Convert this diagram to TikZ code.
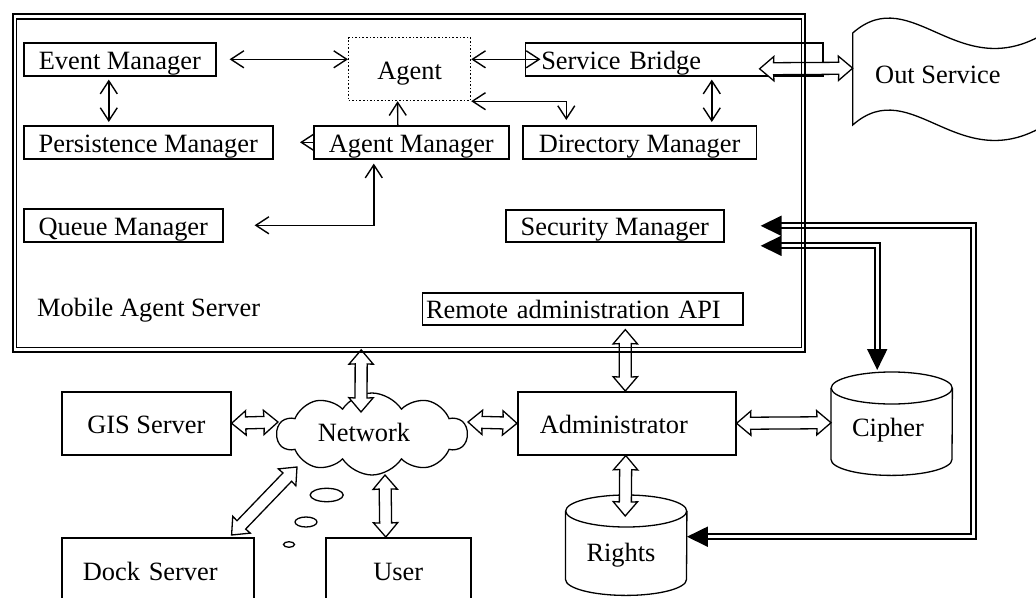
\documentclass[tikz,border=0pt]{standalone}
\usepackage{fontspec}
\setmainfont{Liberation Serif}
\usetikzlibrary{arrows.meta,calc,shapes.symbols}
\begin{document}
\begin{tikzpicture}[x=1pt,y=1pt,
  every node/.style={font=\fontsize{26.4pt}{30pt}\selectfont},
  box/.style={draw, line width=1.6pt, inner sep=0pt, anchor=north west, text height=20.5pt, text depth=0.5pt},
  area/.style={inner sep=0pt, anchor=north west},
  tl/.style={line width=1.4pt},
  >={Straight Barb[length=13pt,width=17pt]},
  shp/.style={line width=1.3pt},
  dbl/.style={draw=black, double=white, line width=1.9pt, double distance=3pt,
    {Triangle[length=21pt,width=20pt]}-{Triangle[length=21pt,width=20pt]}},
  fat/.style={draw=black, fill=white, line width=1.3pt, line join=miter, to path={
    -- ($(\tikztostart)!18.8pt!40.4:(\tikztotarget)$)
    -- ($(\tikztostart)!15.23pt!23.2:(\tikztotarget)$)
    -- ($(\tikztotarget)!15.23pt!-23.2:(\tikztostart)$)
    -- ($(\tikztotarget)!18.8pt!-40.4:(\tikztostart)$)
    -- (\tikztotarget)
    -- ($(\tikztotarget)!18.8pt!40.4:(\tikztostart)$)
    -- ($(\tikztotarget)!15.23pt!23.2:(\tikztostart)$)
    -- ($(\tikztostart)!15.23pt!-23.2:(\tikztotarget)$)
    -- ($(\tikztostart)!18.8pt!-40.4:(\tikztotarget)$)
    -- cycle}}
]
\useasboundingbox (0,0) rectangle (1036,-597);
\clip (0,0) rectangle (1036,-597);

% ---------- server frame (area) ----------
\node[area, minimum width=792pt, minimum height=338pt] (srv) at (13,-14) {};

% ---------- boxes inside the server ----------
\node[box, minimum width=192pt, minimum height=33pt] (evm) at (23,-42) {Event Manager};
\node[box, dotted, line width=1.2pt, minimum width=122pt, minimum height=63pt] (agent) at (348,-37) {Agent};
\node[box, minimum width=249pt, minimum height=33pt] (pm) at (23,-125) {Persistence Manager};
\node[box, minimum width=195pt, minimum height=33pt] (am) at (313,-125) {Agent Manager};
\node[box, minimum width=297.5pt, minimum height=33pt, text width=265.5pt, inner xsep=16pt, align=left] (sb) at (524.5,-42) {Service Bridge};
\node[box, minimum width=233.5pt, minimum height=33pt] (dm) at (522,-125) {Directory Manager};
\node[box, minimum width=199pt, minimum height=33pt] (qm) at (23,-208) {Queue Manager};
\node[box, minimum width=218pt, minimum height=32pt] (sm) at (505,-209) {Security Manager};
\node[box, minimum width=320.3pt, minimum height=32pt, text width=313.3pt, inner xsep=3.5pt, align=left] (api) at (421.7,-292) {Remote administration API};
\node[anchor=base west, inner sep=0pt] (mas) at (37,-316.7) {Mobile Agent Server};

% ---------- Out Service ----------
\node[area, minimum width=183.3pt, minimum height=92pt] (outbox) at (852.7,-33) {};
\draw[shp] (852.7,-33) .. controls (913,20) and (960,-90) .. (1050,-30) -- (1050,-122)
  .. controls (960,-182) and (913,-72) .. (852.7,-125) -- cycle;
\node[anchor=base west, inner sep=0pt] (outT) at (875,-83.3) {Out Service};

% ---------- lower part ----------
\node[box, minimum width=169pt, minimum height=63pt] (gis) at (61,-391) {GIS Server};
\node[box, minimum width=218pt, minimum height=63pt, text width=174pt, inner xsep=22pt, align=left] (admin) at (517,-391) {Administrator};
\node[box, minimum width=192pt, minimum height=66pt, text width=150pt, inner xsep=21pt, align=left] (dock) at (61,-537) {Dock Server};
\node[box, minimum width=145pt, minimum height=66pt] (user) at (325,-537) {User};
\node[cloud, draw, line width=1.3pt, cloud puffs=10, cloud puff arc=115, aspect=2.3,
  minimum width=190pt, minimum height=82pt, inner sep=0pt] (net) at (372,-434) {};
\node[anchor=base, inner sep=0pt] (netT) at (364,-441.7) {Network};
\draw[shp] (326.7,-495) ellipse [x radius=16.5pt, y radius=6.7pt];
\draw[shp] (306,-522) ellipse [x radius=11pt, y radius=5pt];
\draw[shp] (289,-544.5) ellipse [x radius=5.5pt, y radius=2.8pt];

% cylinders
\node[area, minimum width=121pt, minimum height=103pt] (cipher) at (831,-372) {};
\draw[shp] ($(cipher.north west)+(0,-16)$) -- ($(cipher.south west)+(0,16)$)
  arc[start angle=180, end angle=360, x radius=60.5pt, y radius=16pt] -- ($(cipher.north east)+(0,-16)$);
\draw[shp] ($(cipher.north)+(0,-16)$) ellipse [x radius=60.5pt, y radius=16pt];
\node[anchor=base, inner sep=0pt] (cipherT) at (888,-436.7) {Cipher};

\node[area, minimum width=121pt, minimum height=100pt] (rights) at (565.5,-495) {};
\draw[shp] ($(rights.north west)+(0,-16)$) -- ($(rights.south west)+(0,16)$)
  arc[start angle=180, end angle=360, x radius=60.5pt, y radius=16pt] -- ($(rights.north east)+(0,-16)$);
\draw[shp] ($(rights.north)+(0,-16)$) ellipse [x radius=60.5pt, y radius=16pt];
\node[anchor=base, inner sep=0pt] (rightsT) at (621,-561.7) {Rights};

% ---------- thin arrows ----------
\draw[tl, <->] ([xshift=13pt]evm.east) -- (agent.west |- evm.east);
\draw[tl, <->] ($(evm.south)+(-11,-3)$) -- ($(pm.north)+(-39.5,3)$);
\draw[tl, ->] ($(am.north)+(-13.5,0)$) -- ($(agent.south)+(-12,0)$);
\draw[tl, ->] (am.west) -- ($(am.west)+(-13,0)$);
\draw[tl, <->] ($(qm.east)+(31,0)$) -| ($(am.south)+(-37.5,-4)$);
\draw[tl, <->] (agent.east |- sb.west) -- ($(sb.west)+(16,0)$);
\draw[tl, <->] (agent.south east) -| ($(dm.north)+(-73.25,5)$);
\draw[tl, <->] ($(sb.south)+(37.75,-3)$) -- ($(dm.north)+(72.25,3)$);

% ---------- hollow block arrows ----------
\coordinate (f1s) at ($(sb.east)+(-64,-9.5)$);
\coordinate (f1e) at ($(outbox.west)+(0,11)$);
\coordinate (f2s) at ($(srv.south)+(-48,2.5)$);
\coordinate (f2e) at ($(net.center)+(-11,22)$);
\coordinate (f3s) at ($(api.south)+(42.65,-4)$);
\coordinate (f3e) at ($(admin.north)+(-1.5,0)$);
\coordinate (f4s) at (gis.east);
\coordinate (f4e) at ($(net.center)+(-94,12)$);
\coordinate (f5s) at ($(net.center)+(96,12)$);
\coordinate (f5e) at (admin.west);
\coordinate (f6s) at ($(net.center)+(-75,-33)$);
\coordinate (f6e) at ($(dock.north east)+(-23,2)$);
\coordinate (f7s) at ($(net.center)+(13,-41)$);
\coordinate (f7e) at ($(user.north)+(-12.5,0)$);
\coordinate (f8s) at (admin.east);
\coordinate (f8e) at ($(cipher.west)+(0,1)$);
\coordinate (f9s) at ($(admin.south)+(-1,0)$);
\coordinate (f9e) at ($(rights.north)+(-1,-21)$);
\draw[fat] (f1s) to (f1e);
\draw[fat] (f2s) to (f2e);
\draw[fat] (f3s) to (f3e);
\draw[fat] (f4s) to (f4e);
\draw[fat] (f5s) to (f5e);
\draw[fat] (f6s) to (f6e);
\draw[fat] (f7s) to (f7e);
\draw[fat] (f8s) to (f8e);
\draw[fat] (f9s) to (f9e);

% ---------- double-line arrows ----------
\coordinate (d1s) at ($(sm.east)+(36,0)$);
\coordinate (d1e) at ($(rights.east)+(0,8.5)$);
\coordinate (d2s) at ($(sm.east)+(36,-20)$);
\coordinate (d2e) at ($(cipher.north)+(-14.5,2)$);
\draw[dbl] (d1s) -| ($(d1e)+(286.5,0)$) -- (d1e);
\draw[dbl] (d2s) -| (d2e);

% ---------- server frame lines ----------
\draw[line width=1.9pt] (srv.north west) rectangle (srv.south east);
\draw[line width=1.6pt] ($(srv.north west)+(3.5,-5)$) rectangle ($(srv.south east)+(-4,5)$);
\end{tikzpicture}
\end{document}
